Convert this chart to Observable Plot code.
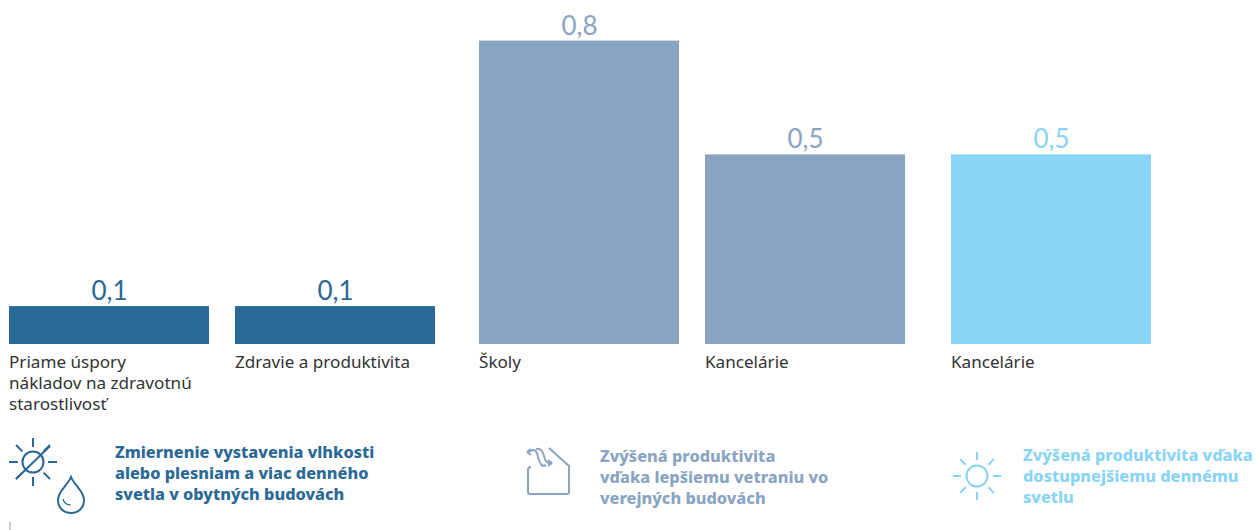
<!DOCTYPE html>
<html lang="sk"><head><meta charset="utf-8">
<script src="https://cdn.jsdelivr.net/npm/d3@7"></script>
<script src="https://cdn.jsdelivr.net/npm/@observablehq/plot@0.6"></script>
<style>
html,body{margin:0;padding:0;background:#fff;overflow:hidden}
#page{position:relative;width:1258px;height:530px}
#chart svg{display:block}
#legend{position:relative;width:1258px;height:110px}
#legend svg{position:absolute;left:0;top:0}
.lg{position:absolute;font:800 16.3px/21px "Noto Sans",sans-serif;white-space:nowrap}
</style></head><body><div id="page"><div id="chart"></div><div id="legend"></div></div>
<script>
const categories = ["Priame úspory\nnákladov na zdravotnú\nstarostlivosť","Zdravie a produktivita","Školy","Kancelárie","Kancelárie"];
const values = [0.1,0.1,0.8,0.5,0.5];
const groups = [0,0,1,1,2];
const groupColors = ["#2a6896","#8aa4c3","#8ad4f7"];
const legendTexts = ["Zmiernenie vystavenia vlhkosti\nalebo plesniam a viac denného\nsvetla v obytných budovách","Zvýšená produktivita\nvďaka lepšiemu vetraniu vo\nverejných budovách","Zvýšená produktivita vďaka\ndostupnejšiemu dennému\nsvetlu"];

const barW=200, gap=26, groupGaps=[0,18,38];
const table = values.map((v,i)=>{
  const start=i*(barW+gap)+groupGaps[groups[i]];
  return {v,label:categories[i],color:groupColors[groups[i]],x1:start,x2:start+barW,mid:start+barW/2};
});
const fmt=d=>d3.format(".1f")(d).replace(".",",");
const plot=Plot.plot({
  width:1258,height:420,marginTop:40.6,marginBottom:76,marginLeft:9,marginRight:107,
  x:{domain:[0,1142],axis:null},
  y:{domain:[0,0.8],axis:null},
  style:{background:"transparent"},
  marks:[
    Plot.rectY(table,{x1:"x1",x2:"x2",y1:0,y2:"v",fill:d=>d.color,inset:0}),
    Plot.text(table,{x:"mid",y:"v",text:d=>fmt(d.v),fill:d=>d.color,dy:-6.500,lineAnchor:"bottom",fontSize:26,fontWeight:400,fontFamily:"Lato"}),
    Plot.text(table,{x:"x1",y:0,text:"label",textAnchor:"start",lineAnchor:"top",dx:-0.5,dy:9,lineHeight:1.22,fontSize:17.1,fill:"#333",fontFamily:"Noto Sans"})
  ]
});
document.getElementById("chart").append(plot);

const leg=document.getElementById("legend");
const spots=[[115,22],[600,26],[1023,25]];
legendTexts.forEach((t,i)=>{
  const d=document.createElement("div");d.className="lg";
  d.style.left=spots[i][0]+"px";d.style.top=spots[i][1]+"px";d.style.color=groupColors[i];
  d.innerText=t;leg.append(d);
});
function rays(cx,cy,r0,r1){
  const out=[];
  for(let a=0;a<8;a++){const t=a*Math.PI/4,c=Math.cos(t),s=Math.sin(t);
    out.push(`M${cx+r0*c} ${cy+r0*s}L${cx+r1*c} ${cy+r1*s}`);}
  return out.join("");
}
const ns="http://www.w3.org/2000/svg";
const ic=document.createElementNS(ns,"svg");
ic.setAttribute("width",1258);ic.setAttribute("height",110);ic.setAttribute("viewBox","0 420 1258 110");
ic.innerHTML=`
<g fill="none" stroke="${groupColors[0]}" stroke-width="2">
 <circle cx="33" cy="462" r="10.5"/><path d="${rays(33,462,15,24)}"/>
 <path d="M16 479L50 446"/>
 <path d="M71 477C68 485 58 491 58 500C58 508 64 513 71 513C78 513 84 508 84 500C84 491 74 485 71 477Z"/>
 <path d="M63 499C64 503 67 505 71 505" stroke-width="1.2"/>
</g>
<g fill="none" stroke="${groupColors[1]}" stroke-width="2" stroke-linejoin="round">
 <path d="M531 467C529 467 528 468 528 470V492C528 493.500 529 494 530 494H567C568 494 569 493.500 569 492V466L549 448"/>
 <path d="M528 452L533 450C538 450 537 456 539 460C541 465 542 467 546 465"/>
 <path d="M536 449C541 448 543 452 544 456C545 461 547 464 552 463"/>
 <path d="M527 452L531 449M527 452L531 455M552 463L548 460M552 463L548 466"/>
</g>
<g fill="none" stroke="${groupColors[2]}" stroke-width="2">
 <circle cx="977" cy="476" r="10.500"/><path d="${rays(977,476,16,24)}"/>
</g>
<path d="M10 522V530" stroke="#999" stroke-width="1"/>`;
leg.append(ic);
</script></body></html>
